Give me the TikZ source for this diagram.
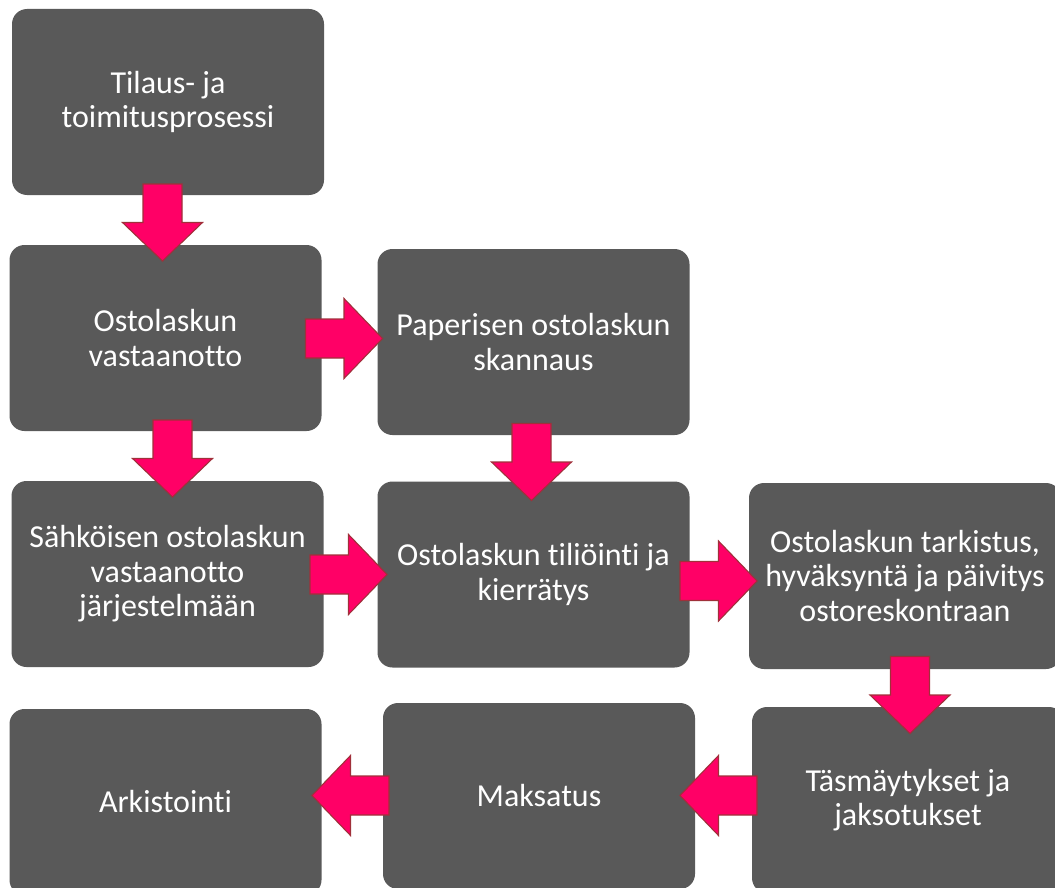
\documentclass[tikz,border=0pt]{standalone}
\usepackage{fontspec}
\setmainfont{Carlito}[Ligatures={NoCommon}]
\definecolor{boxgray}{HTML}{595959}
\definecolor{arrpink}{HTML}{FF0066}
\definecolor{arrborder}{HTML}{A0303A}
\tikzset{
  stepbox/.style={draw=none, fill=boxgray, rounded corners=15pt, minimum width=312pt, minimum height=186pt,
    inner sep=0pt, text=white, align=center, font=\fontsize{32}{34.5}\selectfont},
  blockarr/.style={fill=arrpink, draw=arrborder, line width=1.1pt, line join=miter}
}
\newcommand{\blockarrow}[2]{% center, angle
  \begin{scope}[shift={(#1)}, rotate=#2]
    \draw[blockarr] (-38.5,-19.5) -- (0,-19.5) -- (0,-40) -- (38.5,0) -- (0,40) -- (0,19.5) -- (-38.5,19.5) -- cycle;
  \end{scope}}
\begin{document}
\begin{tikzpicture}[x=1pt,y=-1pt]
\useasboundingbox (0,0) rectangle (1055,888);
\clip (0,0) rectangle (1055,888);
\node[stepbox] (b1) at (168,102) {Tilaus- ja\\toimitusprosessi};
\node[stepbox] (b2) at (165.5,338) {Ostolaskun\\vastaanotto};
\node[stepbox] (b3) at (533.5,342) {Paperisen ostolaskun\\skannaus};
\node[stepbox] (b4) at (167.5,574) {Sähköisen ostolaskun\\vastaanotto\\järjestelmään};
\node[stepbox] (b5) at (533.5,574.5) {Ostolaskun tiliöinti ja\\kierrätys};
\node[stepbox] (b6) at (905,576) {Ostolaskun tarkistus,\\hyväksyntä ja päivitys\\ostoreskontraan};
\node[stepbox] (b7) at (908,800) {Täsmäytykset ja\\jaksotukset};
\node[stepbox] (b8) at (539,796) {Maksatus};
\node[stepbox] (b9) at (165.5,802) {Arkistointi};
\coordinate (a1) at (162.5,222.5);
\coordinate (a2) at (344,338.5);
\coordinate (a3) at (172.5,458.5);
\coordinate (a4) at (531.5,462);
\coordinate (a5) at (348.5,574.5);
\coordinate (a6) at (718.5,581);
\coordinate (a7) at (910,695);
\coordinate (a8) at (718.5,795.5);
\coordinate (a9) at (350.5,795.5);
\blockarrow{a1}{-90}
\blockarrow{a2}{0}
\blockarrow{a3}{-90}
\blockarrow{a4}{-90}
\blockarrow{a5}{0}
\blockarrow{a6}{0}
\blockarrow{a7}{-90}
\blockarrow{a8}{180}
\blockarrow{a9}{180}
\end{tikzpicture}
\end{document}
